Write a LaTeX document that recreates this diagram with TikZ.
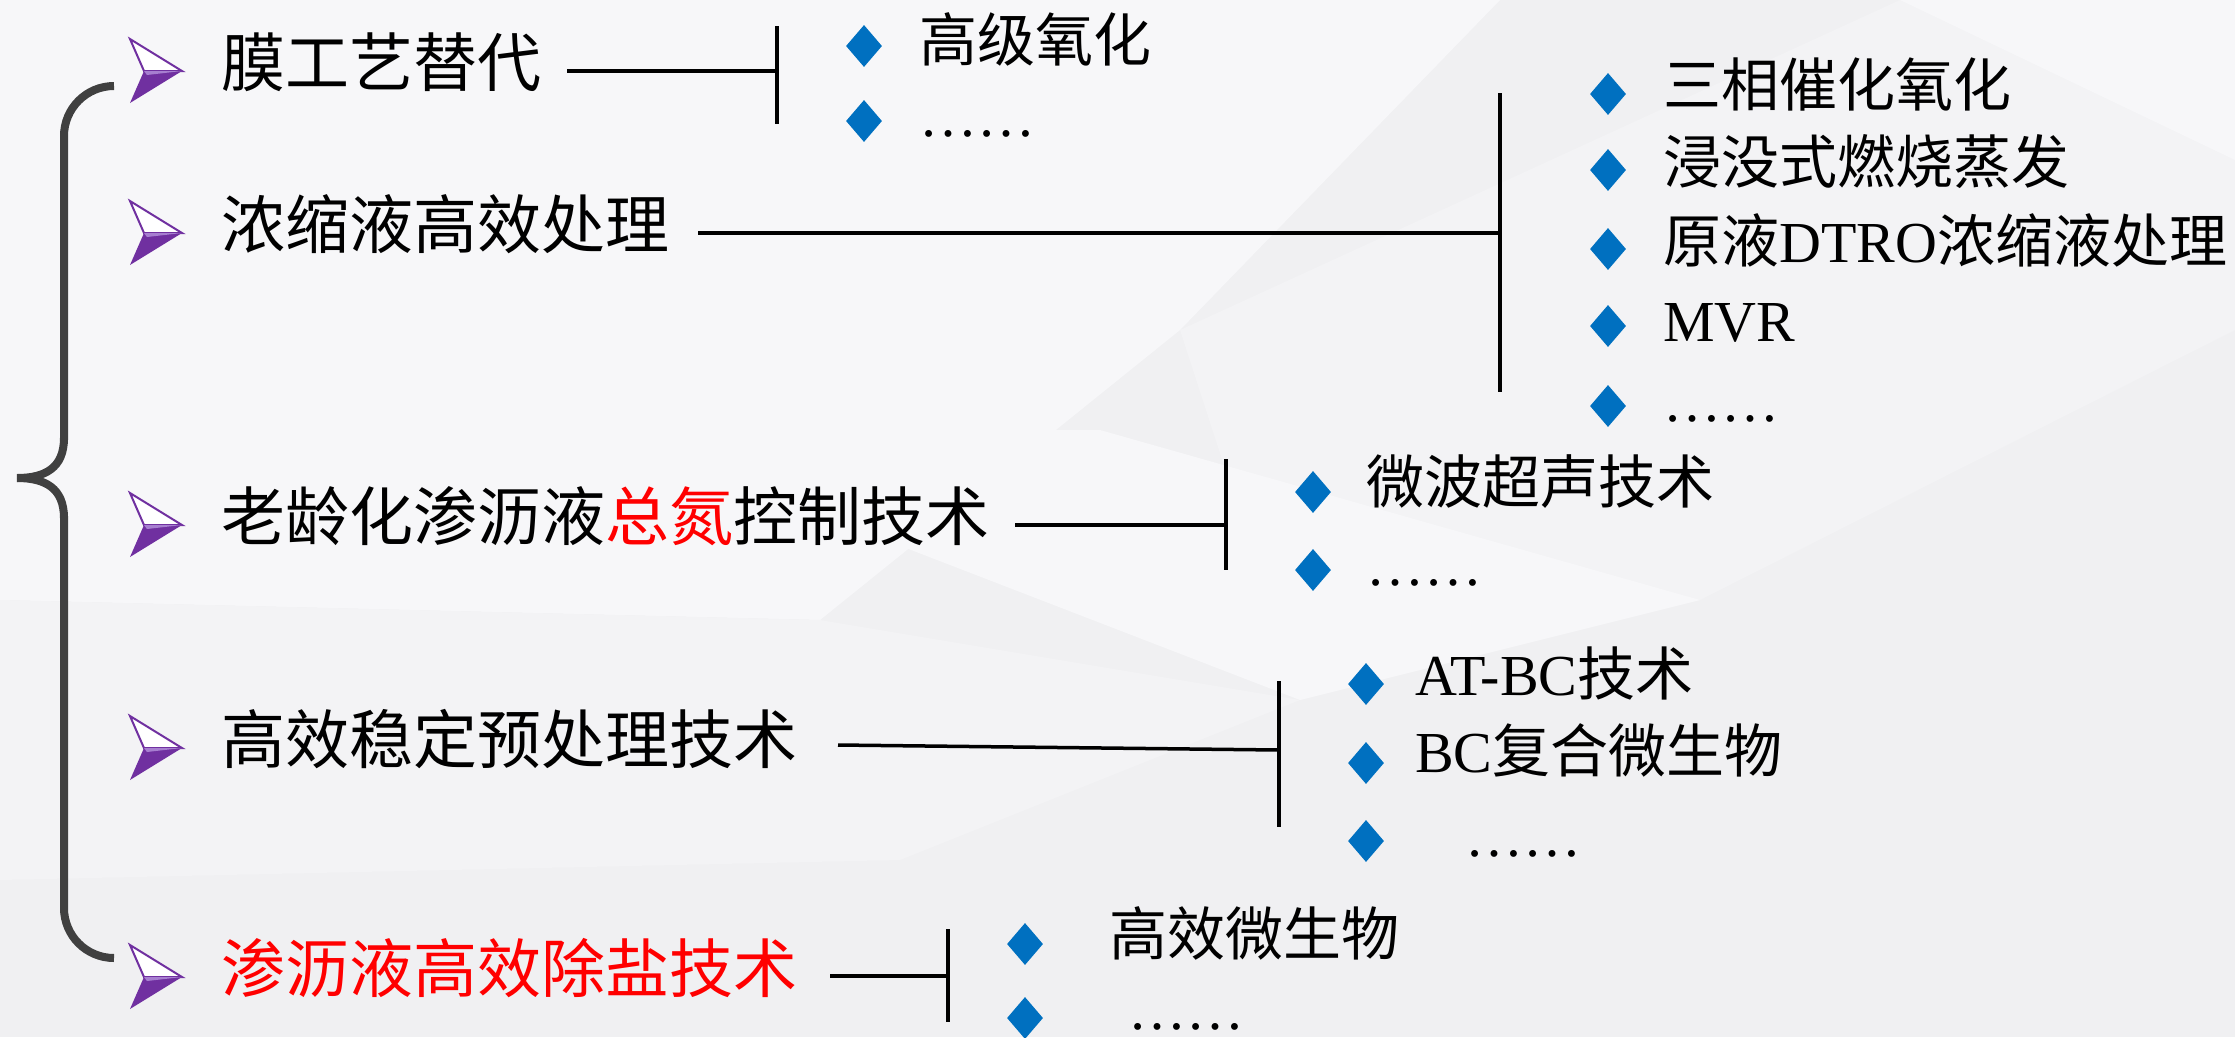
\documentclass[tikz,border=0pt]{standalone}
\usepackage{fontspec}
\setmainfont{Liberation Serif}
\newfontfamily\cjk{Noto Sans CJK SC}
\usetikzlibrary{shapes.geometric}
\definecolor{bgc}{HTML}{F0F0F2}
\definecolor{facetA}{HTML}{F7F7F9}
\definecolor{facetB}{HTML}{F3F3F5}
\definecolor{purp}{HTML}{7030A0}
\definecolor{purpl}{HTML}{A77FD0}
\definecolor{blu}{HTML}{0070C0}
\definecolor{brc}{HTML}{404040}
\definecolor{redt}{HTML}{FF0000}
\tikzset{
  maintxt/.style={anchor=west, inner sep=0pt, yshift=-12pt, font=\fontsize{64}{72}\selectfont\cjk, text height=0.8em, text depth=0.08em},
  subtxt/.style={anchor=west, inner sep=0pt, yshift=-12pt, font=\fontsize{58}{66}\selectfont\cjk, text height=0.8em, text depth=0.08em},
  dotstxt/.style={anchor=base west, inner sep=0pt, font=\fontsize{58}{66}\selectfont\rmfamily, text height=0.15em, text depth=0pt},
  link/.style={line width=3.5pt, black},
  dia/.style={shape=diamond, fill=blu, draw=none, inner sep=0pt, minimum width=36pt, minimum height=42pt},
  brace/.style={line width=8pt, brc, line cap=butt},
  chev/.pic={
    \fill[white] (-26,-32) -- (26,0) -- (-12,0) -- cycle;
    \draw[purp, line width=2pt, line join=miter] (-26,-32) -- (26,0) -- (-12,0) -- cycle;
    \fill[purp] (-12,0) -- (26,0) -- (-26,32) -- cycle;
    \fill[purpl] (-12,0) -- (26,0) -- (-9,4) -- cycle;
  }
}
\begin{document}
\begin{tikzpicture}[x=1pt, y=-1pt]
\useasboundingbox (0,0) rectangle (2235,1037);
% background
\fill[bgc] (0,0) rectangle (2235,1037);
\fill[facetA] (0,0) -- (1500,0) -- (1180,330) -- (820,620) -- (0,600) -- cycle;
\fill[facetB] (1180,330) -- (1900,0) -- (2235,0) -- (2235,330) -- (1700,600) -- (1300,700) -- cycle;
\fill[facetA] (1900,0) -- (2235,0) -- (2235,160) -- cycle;
\fill[facetB] (0,600) -- (820,620) -- (1300,700) -- (900,860) -- (0,880) -- cycle;
\fill[facetA] (600,430) -- (1300,700) -- (1700,600) -- (1100,430) -- cycle;

% brace
\coordinate (brTop) at (114,86);
\coordinate (brBot) at (114,958);
\coordinate (brTip) at (17,478);
\draw[brace, rounded corners=50pt] (brTop) -- (64,86) -- (64,440);
\draw[brace] (64,438) .. controls (64,468) and (45,478) .. (brTip);
\draw[brace] (brTip) .. controls (45,478) and (64,488) .. (64,518);
\draw[brace, rounded corners=50pt] (64,516) -- (64,958) -- (brBot);

% markers
\pic at (156,71) {chev};
\pic at (156,233) {chev};
\pic at (156,525) {chev};
\pic at (156,748) {chev};
\pic at (156,977) {chev};

% main items
\node[maintxt] (m1) at (221,71) {膜工艺替代};
\node[maintxt] (m2) at (221,233) {浓缩液高效处理};
\node[maintxt] (m3) at (221,525) {老龄化渗沥液{\color{redt}总氮}控制技术};
\node[maintxt] (m4) at (221,748) {高效稳定预处理技术};
\node[maintxt, text=redt] (m5) at (221,977) {渗沥液高效除盐技术};

% group 1
\coordinate (s1) at (567,71);
\coordinate (b1) at (777,71);
\coordinate (b1t) at (777,26);
\coordinate (b1b) at (777,124);
\draw[link] (s1) -- (b1);
\draw[link] (b1t) -- (b1b);
\node[dia] (d11) at (864,46) {};
\node[dia] (d12) at (864,121) {};
\node[subtxt] (i11) at (919,46) {高级氧化};
\node[dotstxt] (i12) at (919,136) {……};

% group 2
\coordinate (s2) at (698,233);
\coordinate (b2) at (1500,233);
\coordinate (b2t) at (1500,93);
\coordinate (b2b) at (1500,392);
\draw[link] (s2) -- (b2);
\draw[link] (b2t) -- (b2b);
\node[dia] (d21) at (1608,94) {};
\node[dia] (d22) at (1608,170) {};
\node[dia] (d23) at (1608,249) {};
\node[dia] (d24) at (1608,326) {};
\node[dia] (d25) at (1608,406) {};
\node[subtxt] (i21) at (1663,91) {三相催化氧化};
\node[subtxt] (i22) at (1663,168) {浸没式燃烧蒸发};
\node[subtxt] (i23) at (1663,247) {原液{\rmfamily DTRO}浓缩液处理};
\node[subtxt] (i24) at (1663,326) {\rmfamily MVR};
\node[dotstxt] (i25) at (1663,421) {……};

% group 3
\coordinate (s3) at (1015,525);
\coordinate (b3) at (1226,525);
\coordinate (b3t) at (1226,459);
\coordinate (b3b) at (1226,570);
\draw[link] (s3) -- (b3);
\draw[link] (b3t) -- (b3b);
\node[dia] (d31) at (1313,492) {};
\node[dia] (d32) at (1313,570) {};
\node[subtxt] (i31) at (1366,488) {微波超声技术};
\node[dotstxt] (i32) at (1366,585) {……};

% group 4
\coordinate (s4) at (838,745);
\coordinate (b4) at (1279,750);
\coordinate (b4t) at (1279,681);
\coordinate (b4b) at (1279,827);
\draw[link] (s4) -- (b4);
\draw[link] (b4t) -- (b4b);
\node[dia] (d41) at (1366,684) {};
\node[dia] (d42) at (1366,763) {};
\node[dia] (d43) at (1366,841) {};
\node[subtxt] (i41) at (1415,680) {{\rmfamily AT-BC}技术};
\node[subtxt] (i42) at (1415,757) {{\rmfamily BC}复合微生物};
\node[dotstxt] (i43) at (1465,856) {……};

% group 5
\coordinate (s5) at (830,976);
\coordinate (b5) at (948,976);
\coordinate (b5t) at (948,929);
\coordinate (b5b) at (948,1022);
\draw[link] (s5) -- (b5);
\draw[link] (b5t) -- (b5b);
\node[dia] (d51) at (1025,944) {};
\node[dia] (d52) at (1025,1018) {};
\node[subtxt] (i51) at (1109,940) {高效微生物};
\node[dotstxt] (i52) at (1128,1029) {……};
\end{tikzpicture}
\end{document}
